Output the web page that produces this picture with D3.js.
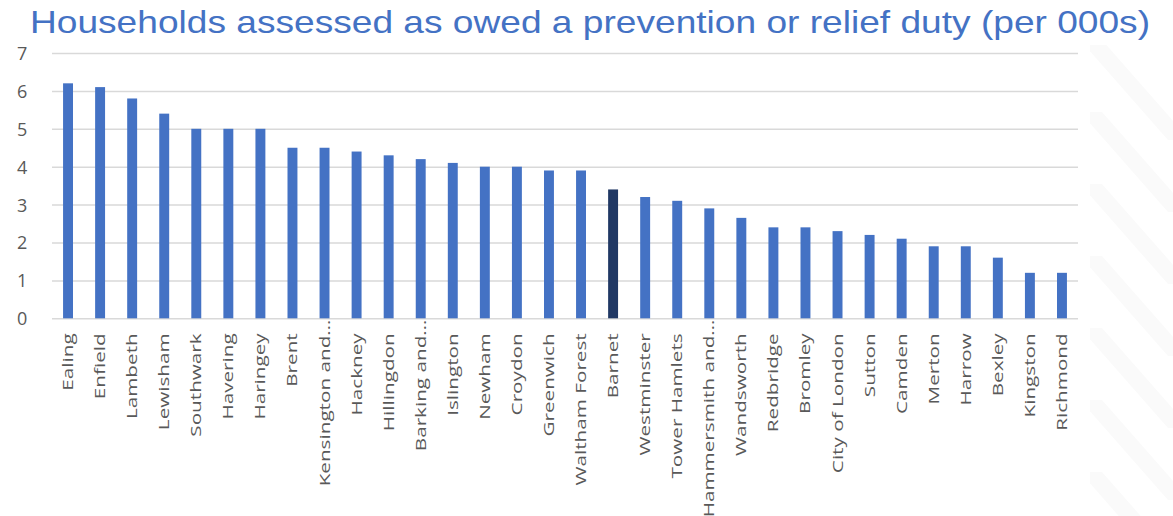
<!DOCTYPE html>
<html>
<head>
<meta charset="utf-8">
<script src="https://cdn.jsdelivr.net/npm/d3@7"></script>
<style>
  html, body { margin: 0; padding: 0; background: #ffffff; }
  svg { display: block; }
</style>
</head>
<body>
<svg id="chart" width="1173" height="516"></svg>
<script>
// London boroughs, households owed a prevention or relief duty (per 000s)
const boroughs = [
  "Ealing", "Enfield", "Lambeth", "Lewisham", "Southwark", "Havering", "Haringey",
  "Brent", "Kensington and\u2026", "Hackney", "Hillingdon", "Barking and\u2026",
  "Islington", "Newham", "Croydon", "Greenwich", "Waltham Forest", "Barnet",
  "Westminster", "Tower Hamlets", "Hammersmith and\u2026", "Wandsworth", "Redbridge",
  "Bromley", "City of London", "Sutton", "Camden", "Merton", "Harrow", "Bexley",
  "Kingston", "Richmond"
];
const rates = [
  6.2, 6.1, 5.8, 5.4, 5.0, 5.0, 5.0,
  4.5, 4.5, 4.4, 4.3, 4.2,
  4.1, 4.0, 4.0, 3.9, 3.9, 3.4,
  3.2, 3.1, 2.9, 2.65, 2.4,
  2.4, 2.3, 2.2, 2.1, 1.9, 1.9, 1.6,
  1.2, 1.2
];
const highlighted = ["Barnet"];
const yTicks = [0, 1, 2, 3, 4, 5, 6, 7];
const titleText = "Households assessed as owed a prevention or relief duty (per 000s)";

const svg = d3.select("#chart");
const plot = { left: 52, right: 1078, top: 53, bottom: 318.3 };
const labelStretch = 1.38;

// faint diagonal watermark stripes on the right edge
const wmClip = svg.append("clipPath").attr("id", "wmclip");
wmClip.append("rect").attr("x", 1090).attr("y", 45).attr("width", 83).attr("height", 471);
const wm = svg.append("g").attr("clip-path", "url(#wmclip)");
[0, 1, 2, 3, 4, 5, 6].forEach(i => {
  const y0 = 40 + i * 72;
  wm.append("path")
    .attr("d", `M1080,${y0} L1102,${y0} L1190,${y0 + 100} L1168,${y0 + 100} Z`)
    .attr("fill", "#fafafa");
});

const x = d3.scaleBand()
  .domain(boroughs)
  .range([plot.left, plot.right])
  .paddingInner(0.69)
  .paddingOuter(0.345);

const y = d3.scaleLinear()
  .domain([0, 7])
  .range([plot.bottom, plot.top]);

// horizontal gridlines with value labels
const yAxis = d3.axisLeft(y)
  .tickValues(yTicks)
  .tickSize(-(plot.right - plot.left))
  .tickFormat(d3.format("d"));

const gy = svg.append("g")
  .attr("transform", `translate(${plot.left},0)`)
  .call(yAxis);
gy.select(".domain").remove();
gy.selectAll(".tick line")
  .attr("stroke", "#d9d9d9")
  .attr("stroke-width", 1.5);
gy.selectAll(".tick text")
  .attr("fill", "#595959")
  .attr("font-family", "'Open Sans', sans-serif")
  .attr("font-size", 18)
  .attr("text-anchor", "start")
  .attr("x", -35)
  .attr("dy", "0.36em");

// bars
svg.append("g")
  .selectAll("rect")
  .data(boroughs.map((b, i) => ({ name: b, value: rates[i] })))
  .join("rect")
  .attr("x", d => x(d.name))
  .attr("width", x.bandwidth())
  .attr("y", d => y(d.value))
  .attr("height", d => y(0) - y(d.value))
  .attr("fill", d => highlighted.includes(d.name) ? "#203864" : "#4472c4");

// rotated category labels; a trailing ellipsis overhangs toward the axis
const xAxis = d3.axisBottom(x).tickSize(0).tickPadding(0);
const gx = svg.append("g")
  .attr("transform", `translate(0,${plot.bottom})`)
  .call(xAxis);
gx.select(".domain").remove();
gx.selectAll(".tick text")
  .attr("fill", "#595959")
  .attr("font-family", "'Open Sans', sans-serif")
  .attr("font-size", 15)
  .attr("text-anchor", "end")
  .attr("dy", null)
  .attr("y", null)
  .each(function (d) {
    let shift = 0;
    if (d.endsWith("\u2026")) {
      shift = this.getSubStringLength(d.length - 1, 1) * labelStretch * 0.85;
    }
    d3.select(this).attr("transform",
      `translate(5,${15 - shift}) rotate(-90) scale(${labelStretch},1)`);
  });

// title
svg.append("text")
  .attr("x", 30)
  .attr("y", 33)
  .attr("fill", "#4472c4")
  .attr("font-family", "'Liberation Sans', Arial, sans-serif")
  .attr("font-size", 32)
  .attr("textLength", 1120)
  .attr("lengthAdjust", "spacingAndGlyphs")
  .text(titleText);
</script>
</body>
</html>
